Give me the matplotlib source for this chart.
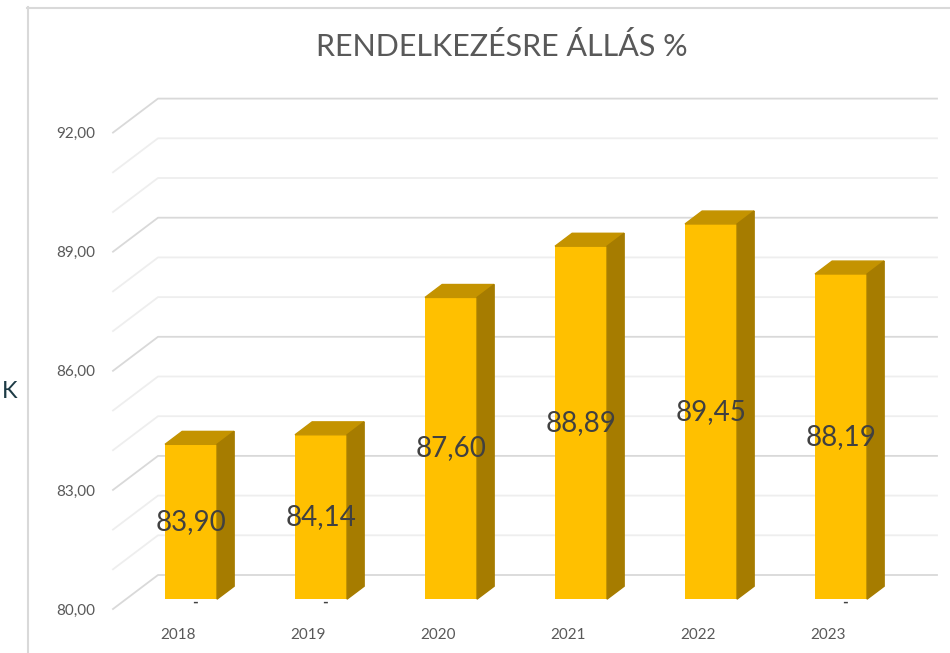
import matplotlib.pyplot as plt
from matplotlib.lines import Line2D
from matplotlib.patches import Polygon
import numpy as np

years = ['2018', '2019', '2020', '2021', '2022', '2023']
values = [83.90, 84.14, 87.60, 88.89, 89.45, 88.19]
dash_years = ['2018', '2019', '2023']
y_ticks = [80, 83, 86, 89, 92]
title = 'RENDELKEZÉSRE ÁLLÁS %'

plt.rcParams['font.family'] = ['Lato', 'DejaVu Sans']

W, H = 950, 653
fig = plt.figure(figsize=(W / 100, H / 100), dpi=100)
ax = fig.add_axes([113 / W, 44 / H, 824 / W, 510 / H])
x_max = 824 / 130
ax.set_xlim(0, x_max)
ax.set_ylim(80, 80 + 510 / 39.7)

# oblique depth vector (data units) and bar depth range
dep_x, dep_y = 45 / 130, 34 / 39.7
z0, z1 = 0.29, 0.67
bw = 0.4

# back wall + floor-side gridlines
for v in range(80, 93):
    col = '#d9d9d9' if (v - 80) % 3 == 0 else '#eeeeee'
    ax.plot([0, dep_x, x_max], [v, v + dep_y, v + dep_y], color=col,
            lw=1.3, clip_on=False, zorder=1)

front = '#FFC000'
top_col = '#C49300'
side_col = '#A67C00'

xl = np.arange(len(years)) + 0.5 - bw / 2 + z0 * dep_x
bottom = 80 + z0 * dep_y
heights = np.array(values) - 80
ax.bar(xl, heights, bottom=bottom, width=bw, align='edge', color=front,
       zorder=3)

ddx, ddy = (z1 - z0) * dep_x, (z1 - z0) * dep_y
for i, v in enumerate(values):
    x0, x1 = xl[i], xl[i] + bw
    top = v + z0 * dep_y
    ax.add_patch(Polygon([(x0, top), (x1, top), (x1 + ddx, top + ddy),
                          (x0 + ddx, top + ddy)], closed=True,
                         color=top_col, zorder=3, clip_on=False))
    ax.add_patch(Polygon([(x1, bottom), (x1, top), (x1 + ddx, top + ddy),
                          (x1 + ddx, bottom + ddy)], closed=True,
                         color=side_col, zorder=3, clip_on=False))
    ax.text(x0 + bw / 2, (bottom + top) / 2, f'{v:.2f}'.replace('.', ','),
            ha='center', va='center', fontsize=20, color='#404040', zorder=5)
    if years[i] in dash_years:
        ax.text(x0 + bw / 2 + 0.03, bottom - 0.08, '-', ha='center',
                va='center', fontsize=11, fontweight='bold', color='#404040',
                zorder=5, clip_on=False)

ax.set_yticks(y_ticks)
ax.set_yticklabels([f'{t:.2f}'.replace('.', ',') for t in y_ticks])
ax.set_xticks(np.arange(len(years)) + 0.5)
ax.set_xticklabels(years)
ax.tick_params(axis='y', length=0, pad=13, labelsize=11, labelcolor='#595959')
ax.tick_params(axis='x', length=0, pad=14, labelsize=11, labelcolor='#595959')
for s in ax.spines.values():
    s.set_visible(False)

# frame of the chart area
fig.add_artist(Line2D([27.5 / W, 27.5 / W], [0, 1 - 7 / H], color='#d9d9d9',
                      lw=1.5))
fig.add_artist(Line2D([27 / W, 1], [1 - 7.5 / H, 1 - 7.5 / H],
                      color='#d9d9d9', lw=1.5))

fig.text(502 / W, 1 - 47 / H, title, ha='center', va='center', fontsize=22,
         color='#595959', fontweight='normal')
fig.text(1.5 / W, 1 - 392 / H, 'K', ha='left', va='center', fontsize=17,
         color='#1d3b45')

fig.savefig('out.png', dpi=100)
